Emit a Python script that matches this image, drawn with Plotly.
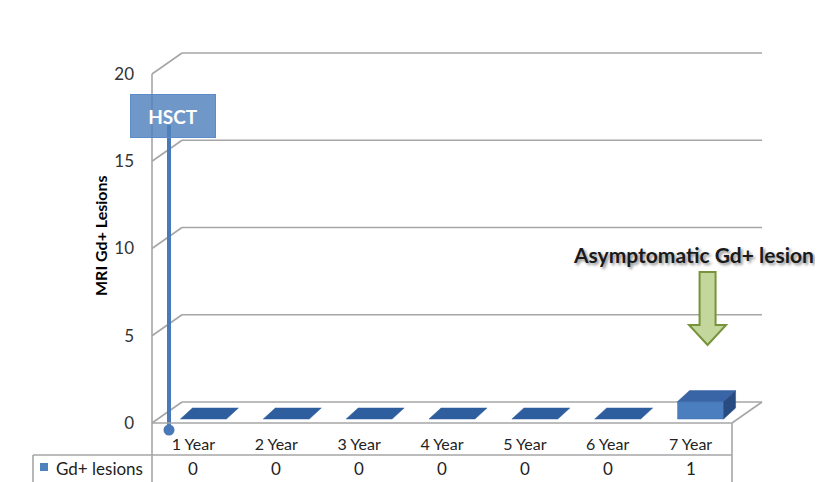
import plotly.graph_objects as go

# ---------------- data ----------------
categories = ["1 Year", "2 Year", "3 Year", "4 Year", "5 Year", "6 Year", "7 Year"]
lesions = [0, 0, 0, 0, 0, 0, 1]
series_name = "Gd+ lesions"
y_ticks = [0, 5, 10, 15, 20]
y_title = "MRI Gd+ Lesions"
hsct_label = "HSCT"
event_label = "Asymptomatic Gd+ lesion"

# ---------------- layout geometry (screen pixels) ----------------
PAGE_OFF = 8                 # page body margin in the browser
W, H = 823, 482
L, R, T, B = 140, 58, 40, 49
PW, PH = W - L - R, H - T - B
X0_PX = 152            # pixel of category axis start
Y0_PX = 423            # pixel of value 0 (front)
KX = 580 / len(categories)   # px per category
KY = 349 / 20                # px per lesion unit
x_range = [-(X0_PX - L) / KX, (W - R - X0_PX) / KX]
y_range = [-(H - B - Y0_PX) / KY, (Y0_PX - T) / KY]

def px_x(d):   # pixel offset -> x data offset
    return d / KX

def px_y(d):   # pixel offset -> y data offset
    return d / KY

def paper_x(px):
    return (px - L) / PW

def paper_y(py):
    return (H - B - py) / PH

FONT = "Lato, 'Open Sans', sans-serif"
GRID = "#a6a6a6"
DXW, DYW = px_x(30), px_y(21)   # depth of walls
n = len(categories)
x_end = px_x(610)

shapes = []
# back wall gridlines and left wall diagonals
for v in y_ticks:
    shapes.append(dict(type="line", xref="x", yref="y", x0=0, y0=v, x1=DXW, y1=v + DYW,
                       line=dict(color=GRID, width=1.6), layer="below"))
    shapes.append(dict(type="line", xref="x", yref="y", x0=DXW, y0=v + DYW, x1=x_end, y1=v + DYW,
                       line=dict(color=GRID, width=1.6), layer="below"))
# floor
shapes.append(dict(type="line", xref="x", yref="y", x0=n, y0=0, x1=n + DXW, y1=DYW,
                   line=dict(color=GRID, width=1.6), layer="below"))

# front frame + data table (paper)
def pline(xa, ya, xb, yb):
    shapes.append(dict(type="line", xref="paper", yref="paper",
                       x0=paper_x(xa), y0=paper_y(ya), x1=paper_x(xb), y1=paper_y(yb),
                       line=dict(color=GRID, width=1.6)))

top_px = Y0_PX - max(y_ticks) * KY
right_px = X0_PX + n * KX
pline(X0_PX, top_px, X0_PX, H + 2)
pline(X0_PX, Y0_PX, right_px, Y0_PX)
pline(right_px, Y0_PX, right_px, H + 2)
pline(33, 455, right_px, 455)
pline(33, 455, 33, H + 2)

# legend key in table
shapes.append(dict(type="rect", xref="paper", yref="paper",
                   x0=paper_x(40), x1=paper_x(48), y0=paper_y(471), y1=paper_y(463),
                   fillcolor="#4f81bd", line=dict(width=0)))

# 3D bars
HALF = px_x(23)
SHIFT = px_x(10)
BASE = px_y(4)
BX, BY = px_x(12), px_y(11)
for i, v in enumerate(lesions):
    c = i + 0.5 + SHIFT
    x0, x1 = c - HALF, c + HALF
    yb, yt = BASE, v + BASE
    if v == 0:
        shapes.append(dict(type="path", xref="x", yref="y",
                           path=f"M{x0},{yb} L{x1},{yb} L{x1+BX},{yb+BY} L{x0+BX},{yb+BY} Z",
                           fillcolor="#2f5e9e", line=dict(color="#2f5e9e", width=0.5)))
    else:
        shapes.append(dict(type="path", xref="x", yref="y",
                           path=f"M{x0},{yb} L{x1},{yb} L{x1},{yt} L{x0},{yt} Z",
                           fillcolor="#4a7ebf", line=dict(color="#3f6eab", width=0.5)))
        shapes.append(dict(type="path", xref="x", yref="y",
                           path=f"M{x0},{yt} L{x1},{yt} L{x1+BX},{yt+BY} L{x0+BX},{yt+BY} Z",
                           fillcolor="#3965a6", line=dict(color="#3965a6", width=0.5)))
        shapes.append(dict(type="path", xref="x", yref="y",
                           path=f"M{x1},{yb} L{x1},{yt} L{x1+BX},{yt+BY} L{x1+BX},{yb+BY} Z",
                           fillcolor="#284c82", line=dict(color="#284c82", width=0.5)))

# green arrow callout for 7 Year
tip_x = (n - 0.5) + px_x(17)
tip_y = px_y(Y0_PX - 345)
sw, hw = px_x(8), px_x(18.5)
head_y = tip_y + px_y(20)
top_y = tip_y + px_y(73)
shapes.append(dict(type="path", xref="x", yref="y",
                   path=(f"M{tip_x-sw},{top_y} L{tip_x+sw},{top_y} L{tip_x+sw},{head_y} "
                         f"L{tip_x+hw},{head_y} L{tip_x},{tip_y} L{tip_x-hw},{head_y} "
                         f"L{tip_x-sw},{head_y} Z"),
                   fillcolor="#c3d69b", line=dict(color="#77933c", width=2)))

fig = go.Figure()

# HSCT stem
hsct_x = px_x(17)
fig.add_trace(go.Scatter(x=[hsct_x, hsct_x], y=[px_y(-7), px_y(Y0_PX - 125)], mode="lines",
                         line=dict(color="#4a79b8", width=4), hoverinfo="skip", showlegend=False))
fig.add_trace(go.Scatter(x=[hsct_x], y=[px_y(-7)], mode="markers", cliponaxis=False,
                         marker=dict(color="#4a79b8", size=11), hoverinfo="skip", showlegend=False))

C = dict(xanchor="center", yanchor="middle", showarrow=False)
annotations = [
    dict(xref="x", yref="y", x=px_x(21), y=px_y(Y0_PX - 116), text=f"<b>{hsct_label}</b>",
         width=84, height=42, bgcolor="rgba(79,129,189,0.82)",
         bordercolor="#5b8bc9", borderwidth=1, borderpad=0,
         font=dict(family=FONT, size=19, color="white"), **C),
    dict(xref="x", yref="y", x=px_x(693 - X0_PX), y=px_y(Y0_PX - 254), text=f"<b>{event_label}</b>",
         font=dict(family=FONT, size=21, color="#1a1a1a", shadow="2px 2px 3px rgba(0,0,0,0.45)"), **C),
    dict(xref="paper", yref="paper", x=paper_x(100), y=paper_y(236), text=f"<b>{y_title}</b>",
         textangle=-90, font=dict(family=FONT, size=16, color="black"), **C),
    dict(xref="paper", yref="paper", x=paper_x(54), y=paper_y(468), text=series_name,
         xanchor="left", yanchor="middle", showarrow=False,
         font=dict(family=FONT, size=17, color="#222")),
]
for i, v in enumerate(lesions):
    annotations.append(dict(xref="x", yref="paper", x=i + 0.5, y=paper_y(468), text=str(v),
                            font=dict(family=FONT, size=17, color="#222"), **C))

fig.update_layout(
    width=W - PAGE_OFF, height=H - PAGE_OFF,
    margin=dict(l=L - PAGE_OFF, r=R, t=T - PAGE_OFF, b=B, autoexpand=False),
    paper_bgcolor="white", plot_bgcolor="rgba(0,0,0,0)",
    shapes=shapes, annotations=annotations, showlegend=False,
    xaxis=dict(range=x_range, tickvals=[i + 0.5 for i in range(n)], ticktext=categories,
               showgrid=False, zeroline=False, showline=False, ticks="", automargin=False,
               tickfont=dict(family=FONT, size=16, color="#222"), fixedrange=True),
    yaxis=dict(range=y_range, tickvals=y_ticks, showgrid=False, zeroline=False, showline=False,
               ticks="", ticklabelstandoff=5, automargin=False,
               tickfont=dict(family=FONT, size=17, color="#333"), fixedrange=True),
)

fig.write_html("out.html")
